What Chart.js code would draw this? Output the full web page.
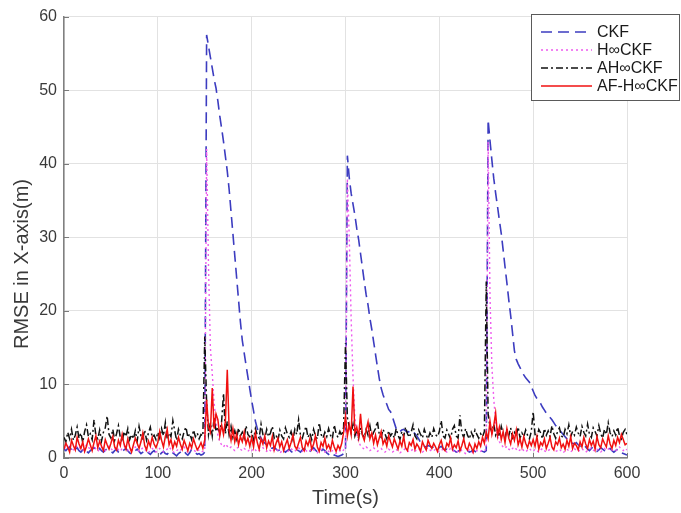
<!DOCTYPE html>
<html>
<head>
<meta charset="utf-8">
<script src="https://cdn.jsdelivr.net/npm/chart.js@4/dist/chart.umd.min.js"></script>
<style>
  html, body { margin: 0; padding: 0; background: #ffffff; }
  #wrap { width: 681px; height: 513px; }
</style>
</head>
<body>
<div id="wrap"><canvas id="c" width="681" height="513"></canvas></div>
<script>
// Filter names shown in the legend
const seriesNames = ['CKF', 'H\u221ECKF', 'AH\u221ECKF', 'AF-H\u221ECKF'];
const xTicks = [0, 100, 200, 300, 400, 500, 600];
const yTicks = [0, 10, 20, 30, 40, 50, 60];
const yTitle = 'RMSE in X-axis(m)';
const xTitle = 'Time(s)';
const sampleStep = 2; // seconds between stored samples, starting at t = 0

// RMSE in X (m), one value every 2 s from 0 to 600 s
const ckf = [
  1.2,1.0,1.3,1.5,1.1, 0.9,1.2,1.4,1.0,0.8, 1.1,1.3,0.9,0.7,1.0, 1.2,1.4,1.1,0.9,1.3, 1.0,0.8,1.1,1.2,0.9,
  0.9,0.7,1.0,1.2,0.8, 0.6,0.9,1.1,1.3,1.0, 0.7,0.5,0.8,1.0,1.2, 0.9,0.6,0.8,1.1,0.9, 0.7,0.5,0.8,1.0,0.7,
  0.6,0.4,0.7,0.9,0.6, 0.5,0.8,1.0,0.7,0.5, 0.3,0.6,0.8,1.1,0.9, 0.6,0.4,0.7,1.2,1.0, 0.7,0.5,0.6,0.4,0.5,
  0.8,57.5,56.0,54.5,53.0, 51.5,50.3,48.5,46.5,44.8, 43.0,41.0,39.0,36.5,33.5, 30.5,27.5,24.5,21.5,18.5, 16.0,14.3,12.6,11.0,9.4,
  7.8,6.4,5.0,4.0,3.2, 2.7,2.3,2.0,1.8,1.6, 1.4,1.3,1.5,1.2,1.0, 1.1,1.3,1.0,0.8,1.0, 1.2,0.9,0.7,0.9,1.1,
  1.0,0.8,1.1,1.3,1.0, 0.7,0.9,1.2,1.4,1.1, 0.8,0.6,0.9,1.2,1.0, 0.7,0.5,0.8,0.6,0.4, 0.3,0.2,0.3,0.4,0.6,
  0.8,41.1,38.1,36.0,34.5, 33.0,31.2,29.7,27.8,25.9, 24.0,22.2,20.8,19.0,17.5, 15.8,14.1,12.4,10.8,9.5, 8.6,7.9,7.3,6.6,6.3,
  5.6,4.8,4.0,3.5,3.6, 3.8,3.9,3.7,3.5,3.6, 3.8,3.6,3.3,3.0,2.6, 2.1,1.8,1.6,1.5,1.7, 1.6,1.4,1.5,1.7,1.5,
  1.4,1.6,1.3,1.1,1.2, 1.0,0.9,1.1,1.0,0.8, 0.9,1.1,1.0,0.8,0.9, 1.0,0.8,0.9,1.1,0.9, 0.7,0.8,1.0,0.9,0.8,
  1.0,46.0,43.1,40.5,38.0, 36.0,34.2,32.3,30.5,28.3, 26.0,23.8,21.5,19.4,17.0, 14.6,13.4,12.8,12.3,11.8, 11.3,10.9,10.6,10.3,9.7,
  9.1,8.5,8.1,7.8,7.4, 6.9,6.5,6.1,5.8,5.5, 5.2,4.8,4.4,4.1,3.8, 3.5,3.2,2.9,2.6,2.4, 2.2,2.0,1.9,2.1,1.8,
  1.6,1.4,1.7,1.5,1.2, 1.0,1.3,1.5,1.2,0.9, 1.1,1.4,1.2,1.0,0.8, 1.1,1.3,1.0,0.8,1.0, 1.2,0.9,0.7,0.6,0.5,
  0.4
];

const hinfCkf = [
  1.5,1.2,1.6,1.9,1.4, 1.1,1.3,1.7,1.5,1.2, 1.0,1.4,1.8,1.5,1.1, 1.3,1.6,1.2,0.9,1.2, 1.5,1.3,1.0,1.4,1.6,
  1.3,1.0,1.2,1.5,1.1, 0.9,1.3,1.6,1.4,1.1, 0.8,1.0,1.3,1.5,1.2, 0.9,1.1,1.4,1.2,0.9, 0.7,1.0,1.3,1.1,0.8,
  1.0,1.3,1.1,0.8,1.0, 1.2,1.5,1.2,0.9,0.7, 1.0,1.2,1.0,1.3,1.5, 1.1,0.8,1.0,1.3,1.1, 0.9,1.2,1.0,0.8,0.9,
  1.0,42.0,26.0,15.0,11.5, 7.5,5.0,3.0,2.2,1.8, 1.5,1.9,1.6,1.3,1.5, 1.2,1.0,1.3,1.5,1.2, 1.0,1.3,1.1,0.9,1.2,
  1.0,1.3,1.1,0.8,1.0, 1.2,1.4,1.1,0.9,1.2, 1.0,0.8,1.1,1.3,1.0, 0.7,0.9,1.2,1.0,0.8, 1.1,1.3,1.0,0.9,1.2,
  1.4,1.1,0.9,1.2,1.0, 0.8,1.0,1.3,1.1,0.9, 0.7,1.0,1.2,0.9,0.8, 1.1,0.9,0.7,1.0,0.8, 0.6,0.9,1.0,0.8,1.1,
  1.2,38.0,30.0,19.0,11.0, 5.5,3.2,2.2,1.7,1.4, 1.2,1.5,1.3,1.0,1.2, 1.4,1.1,0.9,1.1,1.3, 1.0,0.8,1.0,1.2,1.0,
  0.8,1.0,1.2,0.9,0.7, 0.9,1.1,1.3,1.0,0.8, 1.0,1.2,0.9,1.1,1.3, 1.0,0.8,1.0,1.2,1.4, 1.1,0.9,1.0,1.2,0.9,
  0.8,1.0,1.2,1.0,0.8, 1.1,1.3,1.0,0.9,0.7, 1.0,1.2,1.0,0.8,0.6, 0.9,1.1,0.9,0.7,0.8, 1.0,0.8,0.9,1.1,1.0,
  1.2,43.0,22.0,12.5,8.0, 5.0,3.0,2.2,1.8,1.5, 1.3,1.6,1.2,1.0,1.3, 1.5,1.2,0.9,1.1,1.3, 1.0,0.8,1.1,1.3,1.0,
  0.9,1.2,1.0,0.8,1.1, 1.3,1.0,0.8,1.0,1.2, 1.4,1.1,0.9,1.0,1.2, 0.9,0.7,1.0,1.2,1.0, 0.8,1.1,1.3,1.0,0.9,
  1.1,1.3,1.0,0.8,1.0, 1.2,1.4,1.1,0.9,1.2, 1.0,0.8,1.1,1.3,1.0, 1.2,1.4,1.1,0.9,1.0, 1.2,1.5,1.2,1.0,1.3,
  1.1
];

const ahinfCkf = [
  2.8,2.2,3.5,2.6,3.9, 2.4,3.1,4.2,2.7,3.4, 2.1,3.6,4.5,2.9,3.3, 2.5,5.2,3.0,2.6,3.8, 2.3,3.5,4.1,5.7,3.2,
  2.7,3.9,2.4,3.3,4.4, 2.8,2.2,3.6,2.9,4.0, 2.5,3.2,2.6,3.7,2.3, 4.3,3.0,2.6,3.8,2.4, 3.4,4.2,2.8,3.1,2.5,
  3.5,2.7,4.0,3.0,4.8, 2.6,3.4,2.9,5.1,3.7, 2.4,3.9,3.1,2.6,3.6, 4.2,2.8,3.3,2.5,3.8, 2.9,3.4,2.6,3.2,3.0,
  16.5,7.5,3.2,4.8,3.0, 5.5,3.6,4.2,3.4,5.0, 8.8,3.3,5.0,3.1,4.3, 2.8,3.7,2.6,4.1,3.0, 3.5,2.7,4.4,3.2,2.9,
  3.6,2.5,4.0,3.1,2.7, 4.6,3.2,2.6,3.9,2.9, 3.4,4.3,2.7,3.1,2.4, 3.8,3.0,2.6,4.1,3.3, 2.8,3.6,2.5,3.9,3.2,
  5.2,3.1,2.7,3.6,4.3, 2.8,3.4,2.5,3.9,3.0, 2.6,4.8,3.2,2.7,3.5, 2.9,4.0,3.1,2.6,4.5, 3.3,2.8,3.6,3.0,4.2,
  15.6,5.5,4.2,3.4,4.6, 3.0,3.8,2.7,4.1,3.2, 2.8,3.9,3.1,4.4,2.9, 3.5,4.0,5.0,3.2,2.8, 3.9,3.3,2.6,3.7,3.0,
  3.4,2.7,4.0,3.1,2.5, 3.6,2.9,4.2,3.3,2.8, 3.5,4.5,3.0,2.6,3.8, 3.2,2.7,3.9,3.1,2.6, 3.4,2.8,4.0,3.2,2.9,
  3.6,5.1,3.0,2.7,3.8, 3.2,2.6,3.9,4.4,3.0, 2.7,5.8,3.4,2.8,4.0, 3.1,2.6,3.5,2.9,3.8, 3.2,2.7,3.3,2.9,3.6,
  24.0,6.0,4.2,3.5,4.6, 3.1,3.8,2.9,4.3,3.3, 2.7,3.9,3.0,4.1,2.8, 3.5,3.0,4.2,2.7,3.4, 2.9,3.8,3.1,2.6,3.6,
  6.3,3.2,2.8,3.9,3.4, 2.6,4.0,3.1,3.7,2.9, 4.4,3.3,2.7,3.6,4.1, 3.0,2.8,3.9,3.3,4.5, 2.9,3.6,3.1,4.2,3.4,
  2.9,4.3,3.5,3.0,4.6, 3.2,2.8,4.1,3.6,3.0, 4.4,3.3,2.7,3.9,3.2, 4.8,3.4,2.9,3.7,3.1, 4.2,3.0,2.6,3.5,3.9,
  3.2
];

const afHinfCkf = [
  1.2,2.0,1.5,0.8,2.4, 1.7,1.1,2.8,1.9,1.3, 2.2,0.9,1.6,2.6,1.8, 1.0,2.1,3.0,1.4,2.3, 1.6,1.0,2.5,1.8,1.2,
  2.0,2.9,1.5,1.1,2.4, 1.7,3.2,1.9,1.2,2.6, 1.5,0.8,1.8,2.7,2.0, 1.3,2.2,3.4,1.7,1.1, 2.3,1.6,2.8,1.9,1.4,
  2.1,3.6,2.4,1.5,2.9, 3.9,1.8,2.5,1.3,2.2, 1.6,2.8,1.9,1.2,2.4, 1.7,1.0,2.0,1.4,2.6, 1.8,1.1,1.5,2.1,1.3,
  2.5,7.9,4.2,3.5,9.5, 4.0,6.0,5.2,3.0,4.5, 3.2,5.0,12.0,3.8,2.4, 4.0,2.2,3.3,1.8,2.9, 2.2,3.5,1.9,2.7,1.6,
  2.8,1.5,3.4,2.1,1.2, 2.6,1.9,3.0,1.4,2.3, 1.7,2.9,1.1,2.0,2.7, 1.5,2.2,1.0,1.8,2.5, 1.3,2.1,3.1,1.6,1.2,
  2.0,2.8,1.4,1.0,2.3, 1.7,2.6,1.2,1.9,3.0, 1.5,0.9,2.1,1.6,2.7, 1.3,1.8,1.1,2.4,1.5, 0.9,1.7,1.2,2.0,3.5,
  5.7,3.0,4.5,3.2,9.7, 3.5,4.2,2.8,6.0,3.1, 2.4,3.8,4.9,2.6,3.4, 2.0,3.1,1.8,2.7,3.6, 1.9,2.5,1.6,3.0,2.2,
  1.5,2.6,1.9,1.2,2.3, 1.6,2.9,1.4,1.0,2.1, 1.7,2.5,1.2,1.9,1.5, 0.9,2.2,1.6,1.1,2.4, 1.8,1.3,2.0,1.5,0.9,
  1.8,2.4,1.3,1.0,2.0, 1.6,2.7,1.2,1.8,1.4, 2.3,1.0,1.7,2.6,1.4, 1.1,2.0,1.5,0.8,1.9, 1.3,2.2,1.6,2.8,2.0,
  3.5,2.6,5.0,3.2,4.4, 6.1,3.0,4.2,2.5,3.6, 2.1,4.0,2.7,1.9,3.3, 2.4,3.8,1.8,2.6,1.5, 2.9,2.0,1.4,2.3,1.7,
  2.5,1.6,2.9,1.2,2.1, 1.7,2.6,1.3,2.0,2.8, 1.5,1.1,2.2,1.8,2.7, 1.4,1.9,1.2,2.4,1.6, 2.9,1.3,2.0,1.7,1.1,
  2.2,1.5,2.8,1.9,1.3, 2.5,1.7,2.3,1.2,2.9, 1.8,1.4,2.6,2.0,1.5, 3.0,1.9,1.3,2.4,1.7, 2.8,2.1,3.2,2.5,1.8,
  2.0
];

const toPoints = arr => arr.map((v, i) => ({ x: i * sampleStep, y: v }));

const FONT = "'Liberation Sans', Arial, Helvetica, sans-serif";
const TEXT = '#3a3a3a';

// Small tick marks pointing into the plot
const innerTicks = {
  id: 'innerTicks',
  afterDatasetsDraw(chart) {
    const { ctx, chartArea: a, scales: { x, y } } = chart;
    ctx.save();
    ctx.strokeStyle = '#7a7a7a';
    ctx.lineWidth = 1;
    ctx.beginPath();
    xTicks.forEach(v => {
      const px = Math.round(x.getPixelForValue(v)) + 0.5;
      ctx.moveTo(px, a.bottom); ctx.lineTo(px, a.bottom - 5);
    });
    yTicks.forEach(v => {
      const py = Math.round(y.getPixelForValue(v)) + 0.5;
      ctx.moveTo(a.left, py); ctx.lineTo(a.left + 5, py);
    });
    ctx.stroke();
    ctx.restore();
  }
};

// Vertical axis label, sitting a little below the middle of the axis
const sideTitle = {
  id: 'sideTitle',
  afterDraw(chart) {
    const { ctx } = chart;
    ctx.save();
    ctx.translate(22, 264);
    ctx.rotate(-Math.PI / 2);
    ctx.font = '20px ' + FONT;
    ctx.fillStyle = TEXT;
    ctx.textAlign = 'center';
    ctx.textBaseline = 'middle';
    ctx.fillText(yTitle, 0, 0);
    ctx.restore();
  }
};

// Boxed legend in the upper right corner
const boxLegend = {
  id: 'boxLegend',
  afterDraw(chart) {
    const { ctx } = chart;
    const bx = 531.5, by = 14.5, bw = 148, bh = 86;
    ctx.save();
    ctx.fillStyle = '#ffffff';
    ctx.fillRect(bx, by, bw, bh);
    ctx.strokeStyle = '#5a5a5a';
    ctx.lineWidth = 1;
    ctx.strokeRect(bx, by, bw, bh);
    const rows = [32, 50, 68, 86];
    chart.data.datasets.forEach((ds, i) => {
      const yy = rows[i];
      ctx.strokeStyle = ds.borderColor;
      ctx.lineWidth = ds.borderWidth;
      ctx.setLineDash(ds.borderDash || []);
      ctx.beginPath();
      ctx.moveTo(541, yy);
      ctx.lineTo(592, yy);
      ctx.stroke();
      ctx.setLineDash([]);
      ctx.fillStyle = '#1a1a1a';
      ctx.font = '16px ' + FONT;
      ctx.textBaseline = 'middle';
      ctx.textAlign = 'left';
      ctx.fillText(ds.label, 597, yy + 1);
    });
    ctx.restore();
  }
};

new Chart(document.getElementById('c'), {
  type: 'line',
  data: {
    datasets: [
      { label: seriesNames[0], data: toPoints(ckf), borderColor: '#3c3cc0', borderWidth: 1.6,
        borderDash: [11, 6], order: 3 },
      { label: seriesNames[1], data: toPoints(hinfCkf), borderColor: '#ee5aee', borderWidth: 1.4,
        borderDash: [2, 3], order: 2 },
      { label: seriesNames[2], data: toPoints(ahinfCkf), borderColor: '#111111', borderWidth: 1.5,
        borderDash: [7, 3, 2, 3], order: 1 },
      { label: seriesNames[3], data: toPoints(afHinfCkf), borderColor: '#f01010', borderWidth: 1.5,
        borderDash: [], order: 0 }
    ]
  },
  options: {
    responsive: false,
    devicePixelRatio: 1,
    animation: false,
    events: [],
    elements: { point: { radius: 0 }, line: { tension: 0, borderJoinStyle: 'miter' } },
    layout: { padding: { top: 15, right: 54, left: 0, bottom: 0 } },
    plugins: { legend: { display: false }, tooltip: { enabled: false } },
    scales: {
      x: {
        type: 'linear', min: 0, max: 600,
        afterBuildTicks: s => { s.ticks = xTicks.map(v => ({ value: v })); },
        afterFit: s => { s.height = 55; },
        ticks: { font: { family: FONT, size: 16 }, color: TEXT, padding: 6, maxRotation: 0 },
        grid: { color: '#e2e2e2', lineWidth: 1, drawTicks: false },
        border: { color: '#808080', width: 1.5 },
        title: { display: true, text: xTitle, font: { family: FONT, size: 20 }, color: TEXT,
                 padding: { top: 0, bottom: 3 } }
      },
      y: {
        type: 'linear', min: 0, max: 60,
        afterBuildTicks: s => { s.ticks = yTicks.map(v => ({ value: v })); },
        afterFit: s => { s.width = 64; },
        ticks: { font: { family: FONT, size: 16 }, color: TEXT, padding: 7 },
        grid: { color: '#e2e2e2', lineWidth: 1, drawTicks: false },
        border: { color: '#808080', width: 1.5 }
      }
    }
  },
  plugins: [innerTicks, sideTitle, boxLegend]
});
</script>
</body>
</html>
